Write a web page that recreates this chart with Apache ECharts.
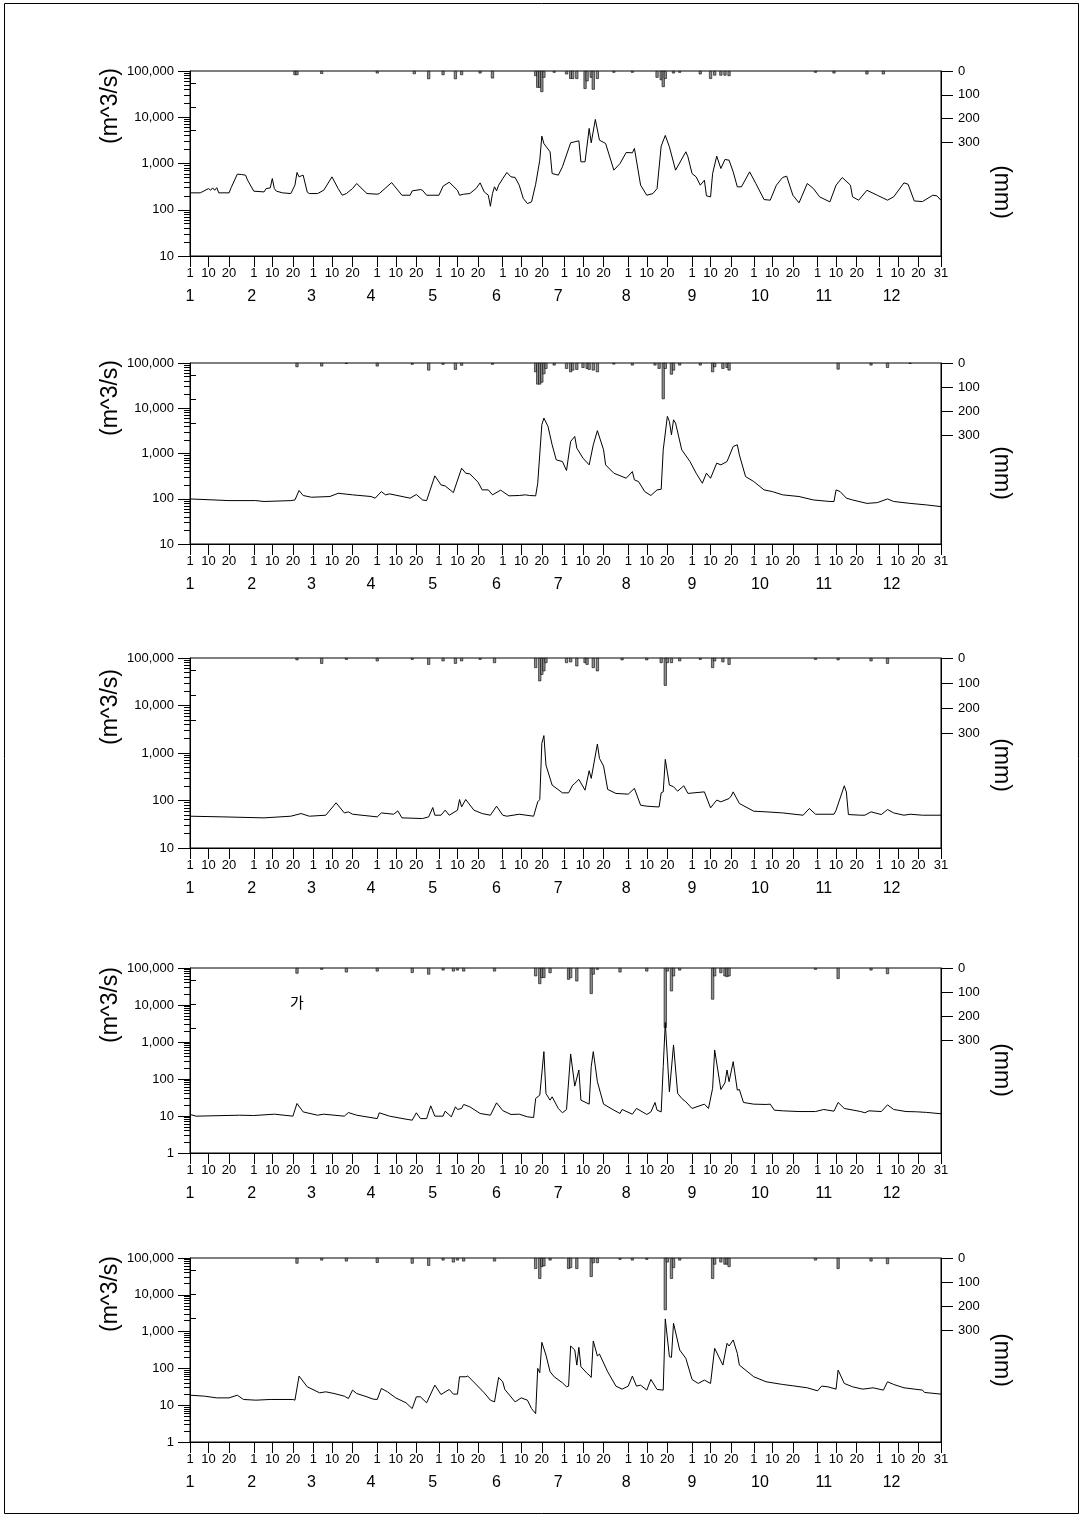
<!DOCTYPE html>
<html><head><meta charset="utf-8">
<script src="https://cdn.jsdelivr.net/npm/echarts@6/dist/echarts.min.js"></script>
<style>html,body{margin:0;padding:0;background:#fff}#c{width:1082px;height:1517px}</style>
</head><body><div id="c"></div>
<script>
// ---- axis definitions (leap year, day index 0 = Jan 1) ----
const monthStarts = [0,31,60,91,121,152,182,213,244,274,305,335];
const monthLabelDays = [0,30,59,88,118,149,179,212,244,277,308,341];
const rainTickLabels = [0,100,200,300];
const rainMinorTicks = [50,150,250];

// ---- daily discharge (m^3/s), [day index, value] ----
const flow1 = [[0,232],[5,232],[9,287],[10,264],[11,297],[12,264],[13,300],[14,232],[19,232],[20,300],[23,588],[25,578],[27,559],[28,435],[31,252],[36,243],[37,287],[39,297],[40,473],[41,287],[42,252],[45,232],[49,224],[51,340],[52,638],[53,514],[54,540],[55,559],[57,240],[58,224],[62,224],[65,264],[69,514],[72,287],[74,206],[76,224],[79,287],[81,369],[86,224],[91,217],[92,224],[98,387],[103,206],[107,206],[108,256],[112,273],[113,264],[115,206],[121,206],[123,323],[126,394],[130,264],[131,206],[133,217],[136,224],[139,287],[141,381],[143,243],[145,206],[146,119],[147,224],[148,313],[149,256],[150,340],[152,470],[154,640],[156,514],[158,500],[160,340],[162,175],[164,136],[166,148],[168,356],[170,1180],[171,3910],[172,2700],[175,1790],[176,607],[179,560],[181,847],[185,2805],[187,2946],[189,3095],[190,1086],[192,1086],[194,5730],[195,2800],[197,8970],[199,3200],[202,2711],[206,718],[209,1000],[212,1730],[215,1702],[216,2113],[219,340],[222,206],[225,224],[227,287],[229,2371],[231,4040],[233,2295],[236,718],[241,1791],[242,1393],[244,607],[246,514],[248,340],[250,435],[251,200],[253,190],[254,607],[256,1441],[258,780],[260,1222],[262,1180],[264,660],[266,313],[268,313],[272,660],[275,369],[279,166],[282,161],[285,340],[288,498],[290,532],[293,206],[296,141],[300,369],[303,287],[306,190],[311,148],[314,340],[317,498],[321,340],[322,190],[325,161],[329,264],[334,206],[339,161],[342,190],[347,381],[349,356],[352,155],[356,150],[361,206],[363,200],[365,160]];
const flow2 = [[0,99],[19,91],[32,91],[36,87],[49,91],[51,94],[53,152],[55,118],[59,108],[68,112],[72,132],[79,122],[88,112],[90,103],[93,144],[95,122],[97,128],[107,103],[110,124],[113,94],[115,91],[119,321],[122,202],[124,192],[128,137],[132,473],[134,367],[136,355],[140,232],[142,157],[145,157],[147,122],[151,155],[152,144],[155,116],[160,118],[163,122],[165,118],[168,116],[169,220],[171,4315],[172,6060],[174,3960],[176,1556],[178,724],[181,665],[183,421],[185,1846],[187,2378],[188,1313],[191,789],[194,561],[196,1556],[198,3200],[201,1205],[202,561],[206,367],[212,284],[215,399],[216,261],[218,240],[221,144],[224,118],[227,157],[229,162],[230,1205],[232,6590],[233,5110],[234,2590],[235,5560],[236,4690],[239,1205],[243,665],[246,367],[249,220],[251,367],[253,284],[256,611],[258,561],[261,665],[264,1428],[266,1556],[267,933],[270,310],[274,240],[279,157],[283,144],[288,122],[296,112],[303,94],[311,87],[313,87],[314,157],[316,144],[319,103],[322,94],[329,79],[334,82],[339,99],[342,87],[350,79],[358,73],[365,67]];
const flow3 = [[0,46.7],[16,45.2],[36,43.1],[49,46.7],[54,53.1],[58,46.7],[66,49],[71,89.3],[75,54.8],[77,57.7],[79,51.4],[91,45.2],[93,54.8],[99,51.4],[101,60.5],[103,43.1],[113,41.7],[116,45.2],[118,71.1],[119,49],[122,49],[124,62.5],[126,49],[130,62.5],[131,105],[132,73.4],[134,105],[138,62.5],[142,53.1],[146,49],[149,75.9],[152,49],[154,46.7],[160,51.4],[167,46.7],[169,93.7],[170,105],[171,1600],[172,2325],[173,557],[176,211],[181,145],[184,145],[186,211],[187,229],[189,278],[192,165],[194,424],[195,292],[198,1549],[199,771],[201,531],[203,171],[207,141],[213,136],[216,180],[219,79.6],[222,75.9],[227,73.4],[228,73.4],[229,145],[230,152],[231,734],[233,211],[235,195],[237,157],[240,204],[242,141],[250,152],[253,70],[256,102],[258,93.7],[262,110],[263,124],[264,152],[267,86.5],[274,59.5],[280,57.7],[288,54.8],[298,49],[301,67.8],[304,51.4],[313,51.4],[314,62.5],[318,204],[319,152],[320,50.6],[326,49],[328,49],[331,57.7],[336,50.6],[339,64.5],[342,54.8],[347,49],[350,51.4],[356,49],[365,49]];
const flow4 = [[0,11],[3,9.9],[24,10.5],[31,10.3],[41,11.2],[50,9.9],[52,21.8],[55,12.9],[62,10.5],[65,11.2],[75,9.9],[77,12.4],[81,10.5],[91,8.5],[92,12.2],[97,9.9],[105,8.2],[108,7.7],[110,12.2],[112,8.5],[115,8.5],[117,18.8],[119,9.9],[123,9.9],[124,13.5],[127,9.5],[129,17.7],[130,15],[132,16],[133,20.5],[136,17.7],[141,11.7],[146,10.5],[149,22.7],[152,14],[156,11],[160,11.2],[164,9.5],[167,9.1],[168,29.8],[170,36.6],[172,549],[173,40.6],[175,26.8],[176,33],[179,16],[181,12.2],[183,15],[185,475],[187,64.3],[189,175],[190,26.8],[194,20.9],[195,215],[196,549],[198,84.4],[201,20.9],[206,14.4],[209,11.7],[210,15],[215,11.2],[217,16],[222,11],[224,12.9],[226,23.2],[227,14.4],[229,12.9],[230,215],[231,3360],[233,45],[235,832],[237,41.1],[239,29.8],[241,24.2],[244,16],[250,20.9],[252,16],[254,56],[255,610],[258,52],[260,79.2],[261,175],[262,84.4],[264,294],[266,50.1],[267,52],[269,23.2],[274,20.9],[280,20.5],[282,20.9],[284,14.4],[288,13.8],[296,13.2],[304,13.2],[308,15],[313,13.5],[315,23.2],[318,16],[326,13.2],[328,12.2],[330,13.8],[336,13.2],[339,20],[342,15],[348,13.2],[353,13],[358,12.5],[365,11.5]];
const flow5 = [[0,18.7],[7,17.6],[13,15.8],[19,15.8],[23,18.7],[26,14.3],[32,13.7],[39,14.3],[50,14.3],[51,13.7],[53,61.8],[57,31.6],[63,21.7],[66,23.1],[70,20.8],[75,17.6],[77,15.2],[79,25.7],[81,20.8],[86,16.9],[89,14.6],[91,14.3],[93,28.5],[96,23.1],[100,15.8],[105,11.6],[108,8.1],[110,16.9],[112,16.9],[115,11.6],[119,35.1],[122,19.5],[126,26.8],[128,20],[130,20],[131,59.3],[134,59.3],[135,61.8],[137,48.1],[143,21.7],[146,13.7],[148,12.3],[150,56.9],[152,43.3],[153,26.8],[158,12.3],[161,15.8],[164,13.7],[166,8.1],[168,5.9],[169,100],[170,76.3],[171,512],[173,231],[175,81.1],[177,59.3],[181,40.6],[183,31.6],[184,33],[185,406],[187,316],[188,123],[189,374],[190,111],[193,73.1],[194,65.8],[195,56.9],[196,556],[198,217],[199,246],[203,81.1],[207,33],[210,27.3],[213,33],[215,61.8],[217,33],[219,35.1],[222,25.7],[224,50.1],[227,26.8],[230,25.7],[231,2215],[233,208],[234,200],[235,1688],[238,316],[241,187],[244,50.1],[247,39],[250,48.1],[253,39],[255,351],[259,123],[261,481],[262,406],[264,593],[266,257],[267,123],[274,59.3],[280,43.3],[288,36.6],[293,33.7],[300,29.7],[305,24.6],[307,33],[310,31.6],[314,27.3],[315,90.2],[318,39],[322,31.6],[327,27.3],[332,29.7],[337,25.7],[339,43.3],[342,36.6],[347,29.7],[356,25.7],[357,22.2],[365,20]];

// ---- daily rainfall (mm), [day index, value] ----
const rain1 = [[51,17],[52,17],[64,12],[91,10],[109,13],[116,34],[123,17],[129,34],[132,17],[141,10],[147,31],[168,21],[169,70],[170,70],[171,88],[172,28],[177,7],[183,14],[185,33],[186,33],[188,33],[192,75],[193,43],[195,28],[196,78],[198,33],[206,7],[215,7],[227,28],[229,38],[230,67],[231,33],[235,10],[238,7],[248,14],[253,33],[255,19],[258,19],[260,19],[262,21],[304,7],[313,10],[329,14],[337,14]];
const rain2 = [[52,17],[64,14],[76,3],[91,14],[108,7],[116,31],[123,7],[129,28],[132,11],[147,7],[168,38],[169,89],[170,89],[171,81],[172,46],[173,24],[177,10],[183,24],[185,38],[186,31],[188,28],[191,20],[193,24],[194,28],[196,31],[198,38],[206,6],[215,10],[226,10],[228,24],[230,150],[231,24],[234,48],[235,31],[238,10],[248,10],[254,38],[255,17],[259,24],[261,20],[262,31],[315,27],[331,10],[339,20],[350,3]];
const rain3 = [[52,9],[64,23],[76,7],[91,13],[108,7],[116,27],[123,13],[129,23],[132,13],[141,7],[148,20],[168,40],[170,93],[171,67],[172,53],[173,20],[183,20],[185,17],[188,33],[192,20],[193,27],[196,40],[198,53],[210,9],[222,9],[229,20],[231,111],[232,20],[234,20],[238,13],[248,7],[254,40],[255,13],[259,17],[262,27],[304,7],[315,9],[331,13],[339,23]];
const rain4 = [[52,23],[64,7],[76,18],[91,14],[108,20],[116,27],[123,10],[128,14],[130,10],[133,14],[148,14],[168,34],[170,66],[171,41],[172,41],[175,21],[184,48],[185,41],[188,55],[195,107],[196,27],[198,7],[209,18],[222,14],[231,247],[232,14],[234,96],[235,34],[238,10],[254,130],[255,34],[258,21],[260,34],[261,37],[262,34],[304,7],[315,45],[331,10],[339,25]];
const rain5 = [[52,23],[64,10],[76,14],[91,20],[108,23],[116,32],[123,10],[128,18],[130,10],[133,14],[148,14],[168,45],[170,86],[171,37],[172,34],[175,10],[184,45],[185,41],[188,45],[195,78],[196,21],[198,21],[209,7],[215,10],[222,7],[231,215],[232,18],[234,86],[235,41],[238,10],[254,86],[255,27],[258,18],[260,27],[261,27],[262,37],[304,10],[315,45],[331,14],[339,25]];

const flows = [flow1, flow2, flow3, flow4, flow5];
const rains = [rain1, rain2, rain3, rain4, rain5];

// ---- layout (pixels) ----
const layout = [
  {top:71,  height:185, minExp:1, rainMax:775, nameY:106,  mmY:192},
  {top:363, height:181, minExp:1, rainMax:751, nameY:398,  mmY:473},
  {top:658, height:190, minExp:1, rainMax:760, nameY:707,  mmY:765},
  {top:968, height:185, minExp:0, rainMax:763, nameY:1005, mmY:1070},
  {top:1258,height:184, minExp:0, rainMax:759, nameY:1294, mmY:1360}
];

const FONT = 'Liberation Sans, Arial, Helvetica, sans-serif';
const dayTicks = [];
monthStarts.forEach(s => { dayTicks.push(s, s + 9, s + 19); });
dayTicks.push(365);
function dayLabel(v) {
  if (v === 365) return '31';
  let m = 0;
  for (let i = 0; i < monthStarts.length; i++) if (monthStarts[i] <= v) m = i;
  return String(v - monthStarts[m] + 1);
}
function fmtComma(v) { return String(Math.round(v)).replace(/\B(?=(\d{3})+(?!\d))/g, ','); }

const grid = [], xAxis = [], yAxis = [], series = [], graphic = [];
layout.forEach((L, i) => {
  grid.push({left:190, width:751, top:L.top, height:L.height, show:true,
    borderColor:'#000', borderWidth:1, backgroundColor:'transparent', containLabel:false});
  xAxis.push({type:'value', gridIndex:i, min:0, max:365, position:'bottom',
    axisLine:{show:true, onZero:false, lineStyle:{color:'#000', width:1}},
    axisTick:{show:true, customValues:dayTicks, length:11, inside:false, lineStyle:{color:'#000'}},
    axisLabel:{show:true, customValues:dayTicks, formatter:dayLabel, margin:11, color:'#000', fontSize:13, fontFamily:FONT},
    splitLine:{show:false}});
  xAxis.push({type:'value', gridIndex:i, min:0, max:365, position:'bottom',
    axisLine:{show:false}, axisTick:{show:false},
    axisLabel:{show:true, customValues:monthLabelDays, formatter:v => String(monthLabelDays.indexOf(v) + 1),
      margin:33, color:'#000', fontSize:16, fontFamily:FONT},
    splitLine:{show:false}});
  const minV = Math.pow(10, L.minExp);
  yAxis.push({type:'log', logBase:10, gridIndex:i, min:minV, max:100000, position:'left',
    axisLine:{show:true, onZero:false, lineStyle:{color:'#000', width:1}},
    axisTick:{show:true, length:12, lineStyle:{color:'#000'}},
    axisLabel:{show:true, formatter:fmtComma, margin:16, color:'#000', fontSize:13, fontFamily:FONT},
    splitLine:{show:false}, minorTick:{show:false}});
  const minor = [];
  for (let e = L.minExp; e < 5; e++) for (let k = 2; k <= 9; k++) minor.push(e + Math.log10(k));
  yAxis.push({type:'value', gridIndex:i, min:L.minExp, max:5, position:'left',
    axisLine:{show:false}, axisTick:{show:true, customValues:minor, length:6, lineStyle:{color:'#000'}},
    axisLabel:{show:false}, splitLine:{show:false}});
  yAxis.push({type:'value', gridIndex:i, min:0, max:L.rainMax, inverse:true, position:'right',
    axisLine:{show:true, onZero:false, lineStyle:{color:'#000', width:1}},
    axisTick:{show:true, customValues:rainTickLabels, length:12, lineStyle:{color:'#000'}},
    axisLabel:{show:true, customValues:rainTickLabels, margin:17, color:'#000', fontSize:13, fontFamily:FONT},
    splitLine:{show:false}});
  yAxis.push({type:'value', gridIndex:i, min:0, max:L.rainMax, inverse:true, position:'right',
    axisLine:{show:false}, axisTick:{show:true, customValues:rainMinorTicks, length:6, lineStyle:{color:'#000'}},
    axisLabel:{show:false}, splitLine:{show:false}});

  series.push({type:'bar', xAxisIndex:2*i, yAxisIndex:4*i+2, data:rains[i], barWidth:3,
    itemStyle:{color:'#8f8f8f', borderColor:'#000', borderWidth:0.6}, silent:true});
  series.push({type:'line', xAxisIndex:2*i, yAxisIndex:4*i, data:flows[i], symbol:'none',
    lineStyle:{color:'#000', width:1}, silent:true});

  graphic.push({type:'text', x:111, y:L.nameY, rotation:Math.PI/2,
    style:{text:'(m^3/s)', font:'23px ' + FONT, fill:'#000', align:'center', verticalAlign:'middle'}});
  graphic.push({type:'text', x:1001, y:L.mmY, rotation:-Math.PI/2,
    style:{text:'(mm)', font:'23px ' + FONT, fill:'#000', align:'center', verticalAlign:'middle'}});
});
graphic.push({type:'text', x:297, y:1002,
  style:{text:'가', font:'15px "Noto Sans CJK KR", sans-serif', fill:'#000', align:'center', verticalAlign:'middle'}});
graphic.push({type:'rect', shape:{x:4.5, y:3.5, width:1074, height:1510}, style:{fill:null, stroke:'#000', lineWidth:1}, silent:true});

const chart = echarts.init(document.getElementById('c'), null, {renderer:'canvas'});
chart.setOption({animation:false, backgroundColor:'#fff', grid, xAxis, yAxis, series, graphic});
</script></body></html>
